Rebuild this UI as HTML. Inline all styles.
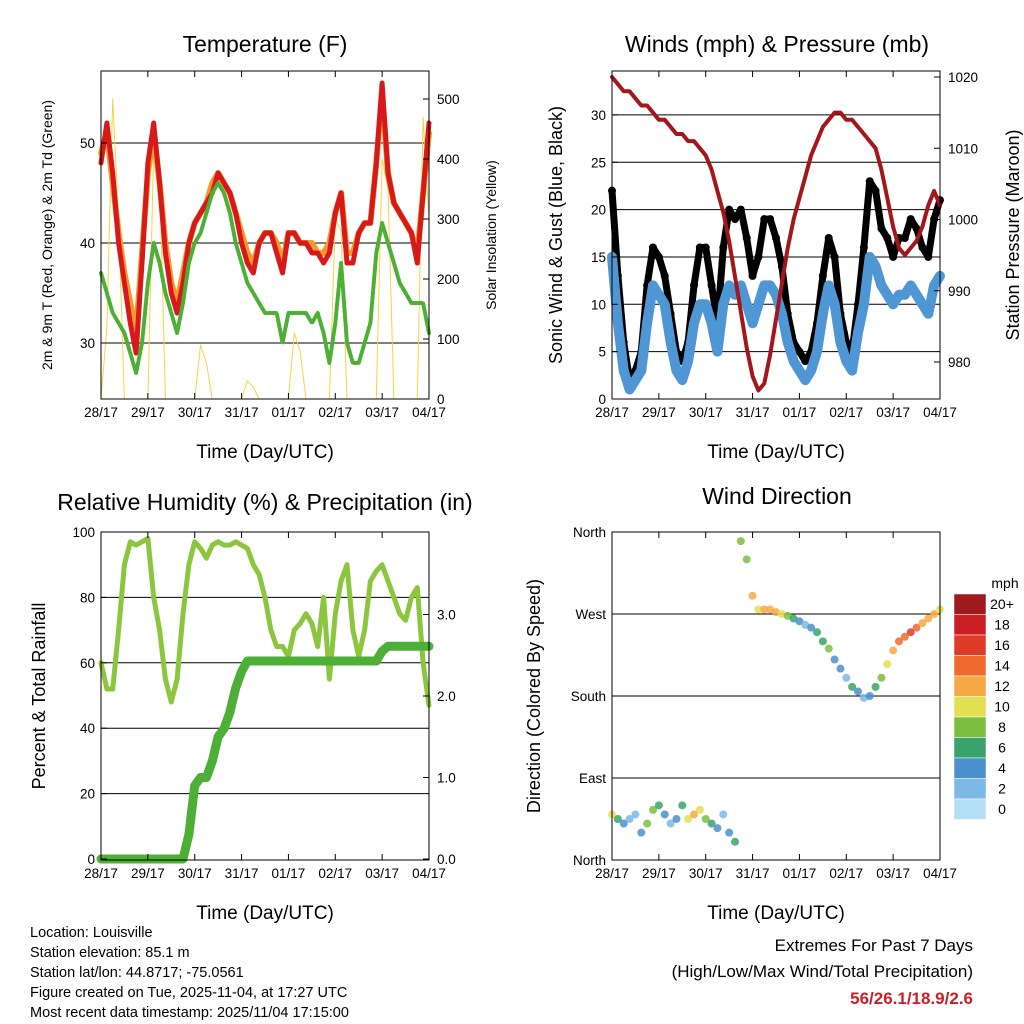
<!DOCTYPE html>
<html><head><meta charset="utf-8"><style>
body{margin:0;background:#fff}
svg{display:block;font-family:"Liberation Sans",sans-serif}
</style></head><body>
<svg id="s" width="1024" height="1024" viewBox="0 0 1024 1024"></svg>
<script>
const days=["28/17","29/17","30/17","31/17","01/17","02/17","03/17","04/17"];
const tempT2=[48,52,47,40,36,32,29,38,48,52,46,39,35,33,36,40,42,43,44,45,47,46,45,43,40,38,37,40,41,41,39,37,41,41,40,40,39,39,38,39,43,45,38,38,41,42,42,48,56,47,44,43,42,41,38,45,52];
const tempT9=[49,51,46,41,37,34,31,39,47,51,46,40,36,34,37,40,42,43,44,46,47,46,45,43,41,39,38,40,41,41,40,38,41,41,40,40,40,39,39,40,43,45,39,39,41,42,42,48,55,47,44,43,42,41,39,45,51];
const tempTd=[37,35,33,32,31,29,27,30,36,40,38,35,33,31,34,38,40,41,43,45,46,45,43,40,38,36,35,34,33,33,33,30,33,33,33,33,32,33,31,28,32,38,30,28,28,30,32,39,42,40,38,36,35,34,34,34,31];
const solar=[0,120,500,300,0,0,0,0,0,420,380,0,0,0,0,0,0,90,60,0,0,0,0,0,0,30,20,0,0,0,0,0,0,110,80,0,0,0,0,0,300,280,0,0,0,0,0,0,400,350,0,0,0,0,0,470,300];
const windSpd=[15,8,3,1,2,3,8,12,11,10,6,3,2,4,8,10,10,8,5,10,12,11,12,10,8,10,12,12,11,9,6,4,3,2,3,5,9,12,10,6,4,3,7,10,15,14,12,11,10,11,11,12,11,10,9,12,13];
const windGust=[22,13,6,2,3,5,12,16,15,13,9,5,4,6,12,16,16,12,8,16,20,19,20,17,13,15,19,19,17,14,9,6,5,4,5,8,13,17,15,9,6,5,10,16,23,22,18,17,15,17,17,19,18,16,15,19,21];
const pressure=[1020,1019,1018,1018,1017,1016,1016,1015,1014,1014,1013,1012,1012,1011,1011,1010,1009,1007,1004,1001,997,992,987,982,978,976,977,981,986,991,996,1000,1003,1006,1009,1011,1013,1014,1015,1015,1014,1014,1013,1012,1011,1010,1007,1003,999,996,995,996,997,999,1002,1004,1002];
const rh=[60,52,52,70,90,97,96,97,98,80,70,55,48,55,75,90,97,95,92,96,97,96,96,97,96,95,90,87,80,70,65,65,62,70,72,75,72,65,80,55,75,85,90,70,62,70,85,88,90,85,80,75,73,80,83,60,47];
const precip=[0,0,0,0,0,0,0,0,0,0,0,0,0,0,0,0.3,0.9,1.0,1.0,1.2,1.5,1.6,1.8,2.1,2.3,2.43,2.43,2.43,2.43,2.43,2.43,2.43,2.43,2.43,2.43,2.43,2.43,2.43,2.43,2.43,2.43,2.43,2.43,2.43,2.43,2.43,2.43,2.43,2.55,2.61,2.61,2.61,2.61,2.61,2.61,2.61,2.61];
const windDir=[50,45,40,45,50,30,40,55,60,50,40,45,60,45,50,55,45,40,35,50,30,20,350,330,290,275,275,275,272,270,268,265,262,258,255,250,240,232,220,210,200,190,185,178,180,190,200,215,230,240,245,250,255,260,265,270,275];
const dirSpd=[10,6,4,3,2,5,8,9,7,4,3,5,7,10,12,11,8,6,4,3,5,6,8,9,12,11,12,13,12,10,8,6,4,3,4,6,7,8,5,4,3,6,4,3,4,6,8,10,12,14,15,16,14,12,12,12,10];
const cbLabels=["20+","18","16","14","12","10","8","6","4","2","0"];
const cbColors=["#9e1a1e","#c91e24","#e03a28","#ef6a2c","#f6a943","#e3df52","#7dbe3f","#3aa36b","#4a90cc","#7db9e6","#b3e0f7"];

const S=document.getElementById('s');const NS="http://www.w3.org/2000/svg";
function el(t,a,txt){const e=document.createElementNS(NS,t);for(const k in a)e.setAttribute(k,a[k]);if(txt!==undefined)e.textContent=txt;S.appendChild(e);return e;}
function txt(x,y,s,size,anchor,name,rot,extra){const a={x:x,y:y,'font-size':size,'text-anchor':anchor||'middle',fill:'#000'};if(rot)a.transform=`rotate(-90 ${x} ${y})`;Object.assign(a,extra||{});const e=el('text',a,s);return e;}
const N=56;
function panel(x0,y0){return {x0:x0,y0:y0,w:328,h:328,xi:i=>x0+i*328/N};}
function frame(p,name){
  const r=el('rect',{x:p.x0,y:p.y0,width:p.w,height:p.h,fill:'none',stroke:'#000','stroke-width':1});
  
  days.forEach((d,k)=>{const x=p.x0+k*p.w/7;
    el('line',{x1:x,x2:x,y1:p.y0+p.h,y2:p.y0+p.h-6,stroke:'#000'});
    el('line',{x1:x,x2:x,y1:p.y0,y2:p.y0+6,stroke:'#000'});
    txt(x,p.y0+p.h+18,d,13.5,'middle',name+'-x-tick');});
  txt(p.x0+164,p.y0+p.h+59,"Time (Day/UTC)",19,'middle',name+'-x-axis-title');
}
function grid(p,ys,name){ys.forEach(y=>{const l=el('line',{x1:p.x0,x2:p.x0+p.w,y1:y,y2:y,stroke:'#000','stroke-width':1});});}
function poly(p,arr,yf,col,w,name){const pts=arr.map((v,i)=>p.xi(i).toFixed(1)+','+yf(v).toFixed(1)).join(' ');const e=el('polyline',{points:pts,fill:'none',stroke:col,'stroke-width':w,'stroke-linejoin':'round','stroke-linecap':'round'});return e;}
function yTicks(p,vals,yf,labs,side,name){vals.forEach((v,k)=>{const y=yf(v);const x=side=='l'?p.x0:p.x0+p.w;
  el('line',{x1:x,x2:side=='l'?x+6:x-6,y1:y,y2:y,stroke:'#000'});
  txt(side=='l'?x-6:x+8,y+5,labs[k],13.5,side=='l'?'end':'start',name);});}

const p1=panel(101,71);
const yT=v=>343-(v-30)*10, yS=v=>399-v*0.6;
txt(265,52,"Temperature (F)",23,'middle','temperature-title');
grid(p1,[yT(30),yT(40),yT(50)],'temp');
poly(p1,solar,yS,'#f5d442',1,'solar-insolation-line');
poly(p1,tempT9,yT,'#f39a2b',6,'temp-9m-line');
poly(p1,tempT2,yT,'#d7191c',5,'temp-2m-line');
poly(p1,tempTd,yT,'#4daf35',4,'dewpoint-line').setAttribute('stroke-dasharray','3 2');
frame(p1,'temp');
yTicks(p1,[30,40,50],yT,["30","40","50"],'l','temp-y-tick');
yTicks(p1,[0,100,200,300,400,500],yS,["0","100","200","300","400","500"],'r','solar-y-tick');
txt(52,235,"2m & 9m T (Red, Orange) & 2m Td (Green)",14,'middle','temp-y-axis-title',true);
txt(496,235,"Solar Insolation (Yellow)",14,'middle','solar-y-axis-title',true);

const p2=panel(612,71);
const yW=v=>399-v*9.47, yP=v=>77+(1020-v)*7.125;
txt(777,52,"Winds (mph) & Pressure (mb)",23,'middle','winds-title');
grid(p2,[5,10,15,20,25,30].map(yW),'wind');
poly(p2,windGust,yW,'#000',7,'gust-line');
windGust.forEach((v,i)=>{const c=el('circle',{cx:p2.xi(i),cy:yW(v),r:4,fill:'#000'});});
poly(p2,windSpd,yW,'#4f97d4',10,'sonic-wind-line');
poly(p2,pressure,yP,'#a3171c',4,'pressure-line');
frame(p2,'wind');
yTicks(p2,[0,5,10,15,20,25,30],yW,["0","5","10","15","20","25","30"],'l','wind-y-tick');
yTicks(p2,[980,990,1000,1010,1020],yP,["980","990","1000","1010","1020"],'r','pressure-y-tick');
txt(562,235,"Sonic Wind & Gust (Blue, Black)",18,'middle','wind-y-axis-title',true);
txt(1019,235,"Station Pressure (Maroon)",18,'middle','pressure-y-axis-title',true);

const p3=panel(101,532);
const yR=v=>859-v*3.27, yQ=v=>859-v*81.5;
txt(265,510,"Relative Humidity (%) & Precipitation (in)",23,'middle','humidity-title');
grid(p3,[20,40,60,80].map(yR),'rh');
poly(p3,rh,yR,'#8cc63f',5,'humidity-line');
poly(p3,precip,yQ,'#4daf35',9,'precip-line');
frame(p3,'rh');
yTicks(p3,[0,20,40,60,80,100],yR,["0","20","40","60","80","100"],'l','rh-y-tick');
yTicks(p3,[0,1,2,3],yQ,["0.0","1.0","2.0","3.0"],'r','precip-y-tick');
txt(45,696,"Percent & Total Rainfall",18,'middle','rh-y-axis-title',true);

const p4=panel(612,532);
const yD=v=>860-v*328/360;
txt(777,504,"Wind Direction",23,'middle','direction-title');
grid(p4,[90,180,270].map(yD),'dir');
function spdCol(s){let k=Math.min(10,Math.floor(s/2));return cbColors[10-k];}
windDir.forEach((v,i)=>{const c=el('circle',{cx:p4.xi(i),cy:yD(v),r:4,fill:spdCol(dirSpd[i]),'fill-opacity':0.85});});
frame(p4,'dir');
yTicks(p4,[0,90,180,270,360],yD,["North","East","South","West","North"],'l','dir-y-tick');
txt(540,696,"Direction (Colored By Speed)",18,'middle','dir-y-axis-title',true);
txt(1005,588,"mph",14,'middle','colorbar-unit');
cbColors.forEach((c,k)=>{const y=594+k*20.5;const r=el('rect',{x:954,y:y,width:32,height:20.5,fill:c,stroke:'#fff','stroke-width':0.5});
  txt(1002,y+15,cbLabels[k],14,'middle','colorbar-label');});

["Location: Louisville","Station elevation: 85.1 m","Station lat/lon: 44.8717; -75.0561","Figure created on Tue, 2025-11-04, at 17:27 UTC","Most recent data timestamp: 2025/11/04 17:15:00"].forEach((s,k)=>txt(30,937+k*20,s,14.5,'start','station-info-line'));
txt(973,951,"Extremes For Past 7 Days",17,'end','extremes-heading');
txt(973,977,"(High/Low/Max Wind/Total Precipitation)",17,'end','extremes-subheading');
txt(973,1004,"56/26.1/18.9/2.6",17,'end','extremes-values',false,{fill:'#c8202a','font-weight':'bold'});
</script>
</body></html>
